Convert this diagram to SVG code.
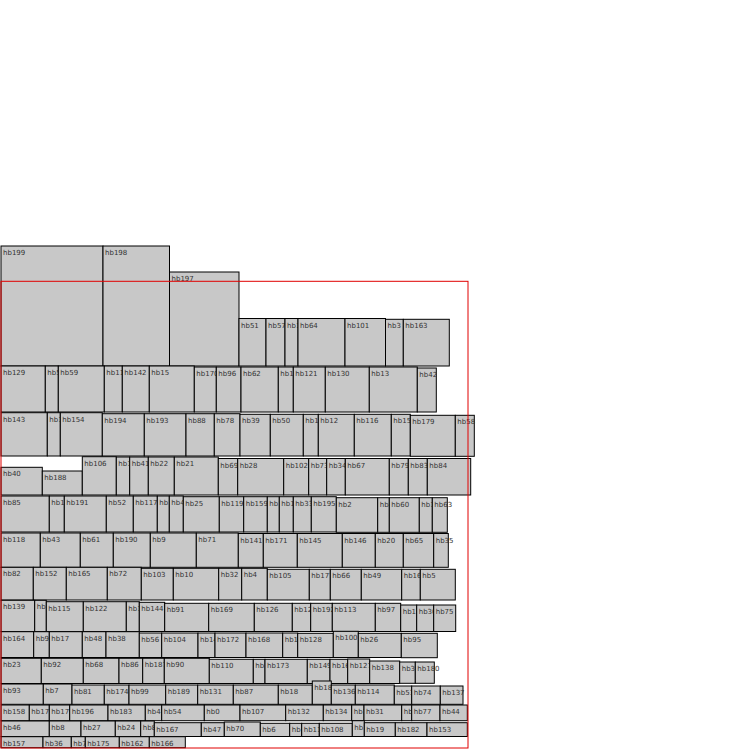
<svg xmlns="http://www.w3.org/2000/svg" width="750" height="750" viewBox="0 0 750 750">
<style>
.n rect{fill:#c8c8c8;stroke:#000;stroke-width:1}
.n text{font-family:"DejaVu Sans",sans-serif;font-size:7px;fill:#333}
</style>
<rect width="750" height="750" fill="#fff"/>
<g id="nodes">
<g class="n" id="hb199" transform="translate(1,246)"><rect width="102" height="120"/><text x="2" y="9">hb199</text></g>
<g class="n" id="hb198" transform="translate(103,246)"><rect width="66.5" height="120"/><text x="2" y="9">hb198</text></g>
<g class="n" id="hb197" transform="translate(169.5,272)"><rect width="69.5" height="94"/><text x="2" y="9">hb197</text></g>
<g class="n" id="hb51" transform="translate(239,318.5)"><rect width="27" height="47.5"/><text x="2" y="9">hb51</text></g>
<g class="n" id="hb57" transform="translate(266,318.5)"><rect width="19" height="47.5"/><text x="2" y="9">hb57</text></g>
<g class="n" id="hb186" transform="translate(285,318.5)"><rect width="13" height="47.5"/><text x="2" y="9">hb186</text></g>
<g class="n" id="hb64" transform="translate(298,318.5)"><rect width="47" height="47.5"/><text x="2" y="9">hb64</text></g>
<g class="n" id="hb101" transform="translate(345,318.5)"><rect width="40.5" height="47.5"/><text x="2" y="9">hb101</text></g>
<g class="n" id="hb3" transform="translate(385.5,319.3)"><rect width="17.8" height="46.7"/><text x="2" y="9">hb3</text></g>
<g class="n" id="hb163" transform="translate(403.3,319.3)"><rect width="46" height="46.7"/><text x="2" y="9">hb163</text></g>

<g class="n" id="hb129" transform="translate(1,366)"><rect width="44.3" height="46"/><text x="2" y="9">hb129</text></g>
<g class="n" id="hb5a" transform="translate(45.3,366)"><rect width="13" height="46"/><text x="2" y="9">hb5</text></g>
<g class="n" id="hb59" transform="translate(58.3,366)"><rect width="46" height="46"/><text x="2" y="9">hb59</text></g>
<g class="n" id="hb11" transform="translate(104.3,366)"><rect width="18" height="46"/><text x="2" y="9">hb11</text></g>
<g class="n" id="hb142" transform="translate(122.3,366)"><rect width="27" height="46"/><text x="2" y="9">hb142</text></g>
<g class="n" id="hb15" transform="translate(149.3,366)"><rect width="45" height="46"/><text x="2" y="9">hb15</text></g>
<g class="n" id="hb170" transform="translate(194.3,367)"><rect width="22" height="45"/><text x="2" y="9">hb170</text></g>
<g class="n" id="hb96" transform="translate(216.3,367)"><rect width="24.7" height="45"/><text x="2" y="9">hb96</text></g>
<g class="n" id="hb62" transform="translate(241,367)"><rect width="37.3" height="45"/><text x="2" y="9">hb62</text></g>
<g class="n" id="hb1a" transform="translate(278.3,367)"><rect width="15" height="45"/><text x="2" y="9">hb1</text></g>
<g class="n" id="hb121" transform="translate(293.3,367)"><rect width="32" height="45"/><text x="2" y="9">hb121</text></g>
<g class="n" id="hb130" transform="translate(325.3,367)"><rect width="44" height="45"/><text x="2" y="9">hb130</text></g>
<g class="n" id="hb13" transform="translate(369.3,367)"><rect width="48" height="45"/><text x="2" y="9">hb13</text></g>
<g class="n" id="hb42" transform="translate(417.3,368)"><rect width="19" height="44"/><text x="2" y="9">hb42</text></g>

<g class="n" id="hb143" transform="translate(1,412.7)"><rect width="46.3" height="43.3"/><text x="2" y="9">hb143</text></g>
<g class="n" id="hb185" transform="translate(47.3,412.7)"><rect width="13" height="43.3"/><text x="2" y="9">hb185</text></g>
<g class="n" id="hb154" transform="translate(60.3,412.7)"><rect width="42" height="43.3"/><text x="2" y="9">hb154</text></g>
<g class="n" id="hb194" transform="translate(102.3,413.7)"><rect width="42" height="42.3"/><text x="2" y="9">hb194</text></g>
<g class="n" id="hb193" transform="translate(144.3,413.7)"><rect width="41.7" height="42.3"/><text x="2" y="9">hb193</text></g>
<g class="n" id="hb88" transform="translate(186,413.7)"><rect width="28.3" height="42.3"/><text x="2" y="9">hb88</text></g>
<g class="n" id="hb78" transform="translate(214.3,413.7)"><rect width="25.7" height="42.3"/><text x="2" y="9">hb78</text></g>
<g class="n" id="hb39" transform="translate(240,414.3)"><rect width="30.3" height="41.7"/><text x="2" y="9">hb39</text></g>
<g class="n" id="hb50" transform="translate(270.3,414.3)"><rect width="33" height="41.7"/><text x="2" y="9">hb50</text></g>
<g class="n" id="hb181" transform="translate(303.3,414.3)"><rect width="15" height="41.7"/><text x="2" y="9">hb181</text></g>
<g class="n" id="hb12" transform="translate(318.3,414.3)"><rect width="36" height="41.7"/><text x="2" y="9">hb12</text></g>
<g class="n" id="hb116" transform="translate(354.3,414.3)"><rect width="37" height="41.7"/><text x="2" y="9">hb116</text></g>
<g class="n" id="hb15b" transform="translate(391.3,414.3)"><rect width="19" height="41.7"/><text x="2" y="9">hb15</text></g>
<g class="n" id="hb179" transform="translate(410.3,415.3)"><rect width="45" height="41"/><text x="2" y="9">hb179</text></g>
<g class="n" id="hb58" transform="translate(455.3,415.3)"><rect width="19" height="41"/><text x="2" y="9">hb58</text></g>

<g class="n" id="hb40" transform="translate(1,467.3)"><rect width="41.3" height="27.7"/><text x="2" y="9">hb40</text></g>
<g class="n" id="hb188" transform="translate(42.3,471)"><rect width="40" height="24"/><text x="2" y="9">hb188</text></g>
<g class="n" id="hb106" transform="translate(82.3,456.7)"><rect width="34" height="38.3"/><text x="2" y="9">hb106</text></g>
<g class="n" id="hb134a" transform="translate(116.3,457)"><rect width="13.4" height="38"/><text x="2" y="9">hb13</text></g>
<g class="n" id="hb41" transform="translate(129.7,457)"><rect width="18.6" height="38"/><text x="2" y="9">hb41</text></g>
<g class="n" id="hb22" transform="translate(148.3,457)"><rect width="26" height="38"/><text x="2" y="9">hb22</text></g>
<g class="n" id="hb21" transform="translate(174.3,457)"><rect width="44" height="38"/><text x="2" y="9">hb21</text></g>
<g class="n" id="hb69" transform="translate(218.3,458.5)"><rect width="19.4" height="36.5"/><text x="2" y="9">hb69</text></g>
<g class="n" id="hb28" transform="translate(237.7,458.5)"><rect width="46" height="36.5"/><text x="2" y="9">hb28</text></g>
<g class="n" id="hb102" transform="translate(283.7,458.5)"><rect width="25" height="36.5"/><text x="2" y="9">hb102</text></g>
<g class="n" id="hb73" transform="translate(308.7,458.5)"><rect width="18" height="36.5"/><text x="2" y="9">hb73</text></g>
<g class="n" id="hb34" transform="translate(326.7,458.5)"><rect width="18.6" height="36.5"/><text x="2" y="9">hb34</text></g>
<g class="n" id="hb67" transform="translate(345.3,458.5)"><rect width="44" height="36.5"/><text x="2" y="9">hb67</text></g>
<g class="n" id="hb79" transform="translate(389.3,458.5)"><rect width="19" height="36.5"/><text x="2" y="9">hb79</text></g>
<g class="n" id="hb83" transform="translate(408.3,458.5)"><rect width="19" height="36.5"/><text x="2" y="9">hb83</text></g>
<g class="n" id="hb84" transform="translate(427.3,458.5)"><rect width="43.4" height="36.5"/><text x="2" y="9">hb84</text></g>

<g class="n" id="hb85" transform="translate(1,496)"><rect width="48.3" height="36"/><text x="2" y="9">hb85</text></g>
<g class="n" id="hb1b" transform="translate(49.3,496)"><rect width="15" height="36"/><text x="2" y="9">hb1</text></g>
<g class="n" id="hb191" transform="translate(64.3,496)"><rect width="42" height="36"/><text x="2" y="9">hb191</text></g>
<g class="n" id="hb52" transform="translate(106.3,496)"><rect width="27" height="36"/><text x="2" y="9">hb52</text></g>
<g class="n" id="hb117" transform="translate(133.3,496)"><rect width="24" height="36"/><text x="2" y="9">hb117</text></g>
<g class="n" id="hb1c" transform="translate(157.3,496)"><rect width="12" height="36"/><text x="2" y="9">hb1</text></g>
<g class="n" id="hb45" transform="translate(169.3,496)"><rect width="14" height="36"/><text x="2" y="9">hb45</text></g>
<g class="n" id="hb25" transform="translate(183.3,496.7)"><rect width="36" height="35.3"/><text x="2" y="9">hb25</text></g>
<g class="n" id="hb119" transform="translate(219.3,496.7)"><rect width="24.4" height="35.3"/><text x="2" y="9">hb119</text></g>
<g class="n" id="hb159" transform="translate(243.7,496.7)"><rect width="23.6" height="35.3"/><text x="2" y="9">hb159</text></g>
<g class="n" id="hb160" transform="translate(267.3,496.7)"><rect width="12" height="35.3"/><text x="2" y="9">hb160</text></g>
<g class="n" id="hb1d" transform="translate(279.3,496.7)"><rect width="14" height="35.3"/><text x="2" y="9">hb1</text></g>
<g class="n" id="hb33" transform="translate(293.3,496.7)"><rect width="18" height="35.3"/><text x="2" y="9">hb33</text></g>
<g class="n" id="hb195" transform="translate(311.3,496.7)"><rect width="25" height="35.3"/><text x="2" y="9">hb195</text></g>
<g class="n" id="hb2" transform="translate(336.3,497.7)"><rect width="41.4" height="34.6"/><text x="2" y="9">hb2</text></g>
<g class="n" id="hb8a" transform="translate(377.7,497.7)"><rect width="11.6" height="34.6"/><text x="2" y="9">hb8</text></g>
<g class="n" id="hb60" transform="translate(389.3,497.7)"><rect width="30" height="34.6"/><text x="2" y="9">hb60</text></g>
<g class="n" id="hb13b" transform="translate(419.3,497.7)"><rect width="13" height="34.6"/><text x="2" y="9">hb13</text></g>
<g class="n" id="hb63" transform="translate(432.3,497.7)"><rect width="15" height="34.6"/><text x="2" y="9">hb63</text></g>

<g class="n" id="hb118" transform="translate(1,533)"><rect width="39.3" height="34.3"/><text x="2" y="9">hb118</text></g>
<g class="n" id="hb43" transform="translate(40.3,533)"><rect width="40" height="34.3"/><text x="2" y="9">hb43</text></g>
<g class="n" id="hb61" transform="translate(80.3,533)"><rect width="33" height="34.3"/><text x="2" y="9">hb61</text></g>
<g class="n" id="hb190" transform="translate(113.3,533)"><rect width="37" height="34.3"/><text x="2" y="9">hb190</text></g>
<g class="n" id="hb9" transform="translate(150.3,533)"><rect width="46" height="34.3"/><text x="2" y="9">hb9</text></g>
<g class="n" id="hb71" transform="translate(196.3,533)"><rect width="42" height="34.3"/><text x="2" y="9">hb71</text></g>
<g class="n" id="hb141" transform="translate(238.3,533.5)"><rect width="25" height="33.8"/><text x="2" y="9">hb141</text></g>
<g class="n" id="hb171" transform="translate(263.3,533.5)"><rect width="34" height="33.8"/><text x="2" y="9">hb171</text></g>
<g class="n" id="hb145" transform="translate(297.3,533.5)"><rect width="45" height="33.8"/><text x="2" y="9">hb145</text></g>
<g class="n" id="hb146" transform="translate(342.3,533.5)"><rect width="33" height="33.8"/><text x="2" y="9">hb146</text></g>
<g class="n" id="hb20" transform="translate(375.3,533.5)"><rect width="28" height="33.8"/><text x="2" y="9">hb20</text></g>
<g class="n" id="hb65" transform="translate(403.3,533.5)"><rect width="30.4" height="33.8"/><text x="2" y="9">hb65</text></g>
<g class="n" id="hb35" transform="translate(433.7,533.5)"><rect width="14.6" height="33.8"/><text x="2" y="9">hb35</text></g>

<g class="n" id="hb82" transform="translate(1,567.3)"><rect width="32.3" height="32.7"/><text x="2" y="9">hb82</text></g>
<g class="n" id="hb152" transform="translate(33.3,567.3)"><rect width="33" height="32.7"/><text x="2" y="9">hb152</text></g>
<g class="n" id="hb165" transform="translate(66.3,567.3)"><rect width="41" height="32.7"/><text x="2" y="9">hb165</text></g>
<g class="n" id="hb72" transform="translate(107.3,567.3)"><rect width="34" height="32.7"/><text x="2" y="9">hb72</text></g>
<g class="n" id="hb103" transform="translate(141.3,568.3)"><rect width="32" height="31.7"/><text x="2" y="9">hb103</text></g>
<g class="n" id="hb10" transform="translate(173.3,568.3)"><rect width="45.4" height="31.7"/><text x="2" y="9">hb10</text></g>
<g class="n" id="hb32" transform="translate(218.7,568.3)"><rect width="23" height="31.7"/><text x="2" y="9">hb32</text></g>
<g class="n" id="hb4" transform="translate(241.7,568.3)"><rect width="25.6" height="31.7"/><text x="2" y="9">hb4</text></g>
<g class="n" id="hb105" transform="translate(267.3,569.3)"><rect width="42" height="30.7"/><text x="2" y="9">hb105</text></g>
<g class="n" id="hb177" transform="translate(309.3,569.3)"><rect width="21" height="30.7"/><text x="2" y="9">hb177</text></g>
<g class="n" id="hb66" transform="translate(330.3,569.3)"><rect width="31" height="30.7"/><text x="2" y="9">hb66</text></g>
<g class="n" id="hb49" transform="translate(361.3,569.3)"><rect width="40.4" height="30.7"/><text x="2" y="9">hb49</text></g>
<g class="n" id="hb16a" transform="translate(401.7,569.3)"><rect width="18.6" height="30.7"/><text x="2" y="9">hb16</text></g>
<g class="n" id="hb5" transform="translate(420.3,569.3)"><rect width="35" height="30.7"/><text x="2" y="9">hb5</text></g>

<g class="n" id="hb139" transform="translate(1,600.3)"><rect width="33.7" height="31.2"/><text x="2" y="9">hb139</text></g>
<g class="n" id="hb14a" transform="translate(34.7,600.3)"><rect width="11.6" height="31.2"/><text x="2" y="9">hb14</text></g>
<g class="n" id="hb115" transform="translate(46.3,601.7)"><rect width="37" height="29.8"/><text x="2" y="9">hb115</text></g>
<g class="n" id="hb122" transform="translate(83.3,601.7)"><rect width="43" height="29.8"/><text x="2" y="9">hb122</text></g>
<g class="n" id="hb15c" transform="translate(126.3,601.7)"><rect width="13" height="29.8"/><text x="2" y="9">hb15</text></g>
<g class="n" id="hb144" transform="translate(139.3,602.3)"><rect width="25.4" height="29.2"/><text x="2" y="9">hb144</text></g>
<g class="n" id="hb91" transform="translate(164.7,603.3)"><rect width="44" height="28.2"/><text x="2" y="9">hb91</text></g>
<g class="n" id="hb169" transform="translate(208.7,603.3)"><rect width="45.6" height="28.2"/><text x="2" y="9">hb169</text></g>
<g class="n" id="hb126" transform="translate(254.3,603.3)"><rect width="38" height="28.2"/><text x="2" y="9">hb126</text></g>
<g class="n" id="hb12b" transform="translate(292.3,603.3)"><rect width="18.4" height="28.2"/><text x="2" y="9">hb12</text></g>
<g class="n" id="hb192" transform="translate(310.7,603.3)"><rect width="21.6" height="28.2"/><text x="2" y="9">hb192</text></g>
<g class="n" id="hb113" transform="translate(332.3,603.3)"><rect width="43" height="28.2"/><text x="2" y="9">hb113</text></g>
<g class="n" id="hb97" transform="translate(375.3,603.3)"><rect width="25.4" height="28.2"/><text x="2" y="9">hb97</text></g>
<g class="n" id="hb19a" transform="translate(400.7,605)"><rect width="16" height="26.5"/><text x="2" y="9">hb19</text></g>
<g class="n" id="hb30" transform="translate(416.7,605)"><rect width="17" height="26.5"/><text x="2" y="9">hb30</text></g>
<g class="n" id="hb75" transform="translate(433.7,605)"><rect width="22" height="26.5"/><text x="2" y="9">hb75</text></g>

<g class="n" id="hb164" transform="translate(1,631.7)"><rect width="32.7" height="25.8"/><text x="2" y="9">hb164</text></g>
<g class="n" id="hb9b" transform="translate(33.7,631.7)"><rect width="15.6" height="25.8"/><text x="2" y="9">hb9</text></g>
<g class="n" id="hb17" transform="translate(49.3,631.7)"><rect width="33" height="25.8"/><text x="2" y="9">hb17</text></g>
<g class="n" id="hb48" transform="translate(82.3,631.7)"><rect width="23.7" height="25.8"/><text x="2" y="9">hb48</text></g>
<g class="n" id="hb38" transform="translate(106,631.7)"><rect width="33.3" height="25.8"/><text x="2" y="9">hb38</text></g>
<g class="n" id="hb56" transform="translate(139.3,633)"><rect width="22.4" height="24.5"/><text x="2" y="9">hb56</text></g>
<g class="n" id="hb104" transform="translate(161.7,633)"><rect width="36.3" height="24.5"/><text x="2" y="9">hb104</text></g>
<g class="n" id="hb14b" transform="translate(198,633)"><rect width="17" height="24.5"/><text x="2" y="9">hb14</text></g>
<g class="n" id="hb172" transform="translate(215,633)"><rect width="31" height="24.5"/><text x="2" y="9">hb172</text></g>
<g class="n" id="hb168" transform="translate(246,633)"><rect width="36.7" height="24.5"/><text x="2" y="9">hb168</text></g>
<g class="n" id="hb1e" transform="translate(282.7,633)"><rect width="15" height="24.5"/><text x="2" y="9">hb1</text></g>
<g class="n" id="hb128" transform="translate(297.7,633.3)"><rect width="35.6" height="24.2"/><text x="2" y="9">hb128</text></g>
<g class="n" id="hb100" transform="translate(333.3,631.3)"><rect width="25" height="26.2"/><text x="2" y="9">hb100</text></g>
<g class="n" id="hb26" transform="translate(358.3,633.3)"><rect width="43" height="24.2"/><text x="2" y="9">hb26</text></g>
<g class="n" id="hb95" transform="translate(401.3,633.3)"><rect width="36" height="24.4"/><text x="2" y="9">hb95</text></g>

<g class="n" id="hb23" transform="translate(1,658.3)"><rect width="40.3" height="25.2"/><text x="2" y="9">hb23</text></g>
<g class="n" id="hb92" transform="translate(41.3,658.3)"><rect width="42" height="25.2"/><text x="2" y="9">hb92</text></g>
<g class="n" id="hb68" transform="translate(83.3,658.3)"><rect width="35.7" height="25.2"/><text x="2" y="9">hb68</text></g>
<g class="n" id="hb86" transform="translate(119,658.3)"><rect width="23.7" height="25.2"/><text x="2" y="9">hb86</text></g>
<g class="n" id="hb187" transform="translate(142.7,658.3)"><rect width="21.6" height="25.2"/><text x="2" y="9">hb187</text></g>
<g class="n" id="hb90" transform="translate(164.3,658.3)"><rect width="45" height="25.2"/><text x="2" y="9">hb90</text></g>
<g class="n" id="hb110" transform="translate(209.3,659.3)"><rect width="44" height="24.2"/><text x="2" y="9">hb110</text></g>
<g class="n" id="hb1f" transform="translate(253.3,659.3)"><rect width="11.7" height="24.2"/><text x="2" y="9">hb1</text></g>
<g class="n" id="hb173" transform="translate(265,659.3)"><rect width="42.3" height="24.2"/><text x="2" y="9">hb173</text></g>
<g class="n" id="hb149" transform="translate(307.3,659.3)"><rect width="22.7" height="24.2"/><text x="2" y="9">hb149</text></g>
<g class="n" id="hb16b" transform="translate(330,659.3)"><rect width="17.7" height="24.2"/><text x="2" y="9">hb16</text></g>
<g class="n" id="hb127" transform="translate(347.7,659)"><rect width="22" height="24.5"/><text x="2" y="9">hb127</text></g>
<g class="n" id="hb138" transform="translate(369.7,661)"><rect width="30" height="22.5"/><text x="2" y="9">hb138</text></g>
<g class="n" id="hb3b" transform="translate(399.7,662)"><rect width="15.6" height="21.3"/><text x="2" y="9">hb3</text></g>
<g class="n" id="hb180" transform="translate(415.3,662)"><rect width="19" height="21.3"/><text x="2" y="9">hb180</text></g>

<g class="n" id="hb93" transform="translate(1,684)"><rect width="42.3" height="20.3"/><text x="2" y="9">hb93</text></g>
<g class="n" id="hb7" transform="translate(43.3,684)"><rect width="28.7" height="20.3"/><text x="2" y="9">hb7</text></g>
<g class="n" id="hb81" transform="translate(72,685)"><rect width="32.3" height="19.3"/><text x="2" y="9">hb81</text></g>
<g class="n" id="hb174" transform="translate(104.3,685)"><rect width="24.7" height="19.3"/><text x="2" y="9">hb174</text></g>
<g class="n" id="hb99" transform="translate(129,685)"><rect width="36.7" height="19.3"/><text x="2" y="9">hb99</text></g>
<g class="n" id="hb189" transform="translate(165.7,685)"><rect width="32" height="19.3"/><text x="2" y="9">hb189</text></g>
<g class="n" id="hb131" transform="translate(197.7,685)"><rect width="35.6" height="19.3"/><text x="2" y="9">hb131</text></g>
<g class="n" id="hb87" transform="translate(233.3,685)"><rect width="45" height="19.3"/><text x="2" y="9">hb87</text></g>
<g class="n" id="hb18" transform="translate(278.3,685)"><rect width="34" height="19.3"/><text x="2" y="9">hb18</text></g>
<g class="n" id="hb184" transform="translate(312.3,681)"><rect width="19" height="23.3"/><text x="2" y="9">hb184</text></g>
<g class="n" id="hb136" transform="translate(331.3,685)"><rect width="24" height="19.3"/><text x="2" y="9">hb136</text></g>
<g class="n" id="hb114" transform="translate(355.3,685)"><rect width="39" height="19.3"/><text x="2" y="9">hb114</text></g>
<g class="n" id="hb53" transform="translate(394.3,686)"><rect width="17.4" height="18.3"/><text x="2" y="9">hb53</text></g>
<g class="n" id="hb74" transform="translate(411.7,686)"><rect width="28.6" height="18.3"/><text x="2" y="9">hb74</text></g>
<g class="n" id="hb137" transform="translate(440.3,686)"><rect width="22.7" height="18.3"/><text x="2" y="9">hb137</text></g>

<g class="n" id="hb158" transform="translate(1,705)"><rect width="28.3" height="15.7"/><text x="2" y="9">hb158</text></g>
<g class="n" id="hb17b" transform="translate(29.3,705)"><rect width="20" height="15.7"/><text x="2" y="9">hb17</text></g>
<g class="n" id="hb17c" transform="translate(49.3,705)"><rect width="20.4" height="15.7"/><text x="2" y="9">hb17</text></g>
<g class="n" id="hb196" transform="translate(69.7,705)"><rect width="38.3" height="15.7"/><text x="2" y="9">hb196</text></g>
<g class="n" id="hb183" transform="translate(108,705)"><rect width="37.3" height="15.7"/><text x="2" y="9">hb183</text></g>
<g class="n" id="hb4b" transform="translate(145.3,705)"><rect width="16.4" height="15.7"/><text x="2" y="9">hb4</text></g>
<g class="n" id="hb54" transform="translate(161.7,705)"><rect width="42.6" height="15.7"/><text x="2" y="9">hb54</text></g>
<g class="n" id="hb0" transform="translate(204.3,705)"><rect width="35.7" height="15.7"/><text x="2" y="9">hb0</text></g>
<g class="n" id="hb107" transform="translate(240,705)"><rect width="45.7" height="15.7"/><text x="2" y="9">hb107</text></g>
<g class="n" id="hb132" transform="translate(285.7,705)"><rect width="37.6" height="15.7"/><text x="2" y="9">hb132</text></g>
<g class="n" id="hb134" transform="translate(323.3,705)"><rect width="28.4" height="15.7"/><text x="2" y="9">hb134</text></g>
<g class="n" id="hb140" transform="translate(351.7,705)"><rect width="12.3" height="15.7"/><text x="2" y="9">hb140</text></g>
<g class="n" id="hb31" transform="translate(364,705)"><rect width="37.7" height="15.7"/><text x="2" y="9">hb31</text></g>
<g class="n" id="hb94" transform="translate(401.7,705)"><rect width="10" height="15.7"/><text x="2" y="9">hb94</text></g>
<g class="n" id="hb77" transform="translate(411.7,705)"><rect width="28.3" height="15.7"/><text x="2" y="9">hb77</text></g>
<g class="n" id="hb44" transform="translate(440,705)"><rect width="27.3" height="15.7"/><text x="2" y="9">hb44</text></g>

<g class="n" id="hb46" transform="translate(1,721)"><rect width="48.3" height="15.5"/><text x="2" y="9">hb46</text></g>
<g class="n" id="hb8" transform="translate(49.3,721)"><rect width="31.7" height="15.5"/><text x="2" y="9">hb8</text></g>
<g class="n" id="hb27" transform="translate(81,721)"><rect width="34.3" height="15.5"/><text x="2" y="9">hb27</text></g>
<g class="n" id="hb24" transform="translate(115.3,721)"><rect width="25.4" height="15.5"/><text x="2" y="9">hb24</text></g>
<g class="n" id="hb8b" transform="translate(140.7,721)"><rect width="13.6" height="15.5"/><text x="2" y="9">hb8</text></g>
<g class="n" id="hb167" transform="translate(154.3,722.7)"><rect width="47" height="13.8"/><text x="2" y="9">hb167</text></g>
<g class="n" id="hb47" transform="translate(201.3,722.7)"><rect width="23" height="13.8"/><text x="2" y="9">hb47</text></g>
<g class="n" id="hb70" transform="translate(224.3,722)"><rect width="36" height="14.5"/><text x="2" y="9">hb70</text></g>
<g class="n" id="hb6" transform="translate(260.3,723.3)"><rect width="29.4" height="13.2"/><text x="2" y="9">hb6</text></g>
<g class="n" id="hb155" transform="translate(289.7,723.3)"><rect width="12" height="13.2"/><text x="2" y="9">hb155</text></g>
<g class="n" id="hb11b" transform="translate(301.7,723.3)"><rect width="17.6" height="13.2"/><text x="2" y="9">hb111</text></g>
<g class="n" id="hb108" transform="translate(319.3,723.3)"><rect width="33" height="13.2"/><text x="2" y="9">hb108</text></g>
<g class="n" id="hb123" transform="translate(352.3,720.7)"><rect width="12" height="15.8"/><text x="2" y="9">hb123</text></g>
<g class="n" id="hb19b" transform="translate(364.3,722.7)"><rect width="31" height="13.8"/><text x="2" y="9">hb19</text></g>
<g class="n" id="hb182" transform="translate(395.3,722.7)"><rect width="31.7" height="13.8"/><text x="2" y="9">hb182</text></g>
<g class="n" id="hb153" transform="translate(427,722.7)"><rect width="40.3" height="13.8"/><text x="2" y="9">hb153</text></g>

<g class="n" id="hb157" transform="translate(1,736.7)"><rect width="42" height="11"/><text x="2" y="9">hb157</text></g>
<g class="n" id="hb36" transform="translate(43,736.7)"><rect width="28.3" height="11"/><text x="2" y="9">hb36</text></g>
<g class="n" id="hb7b" transform="translate(71.3,736.7)"><rect width="14" height="11"/><text x="2" y="9">hb7</text></g>
<g class="n" id="hb175" transform="translate(85.3,736.7)"><rect width="34" height="11"/><text x="2" y="9">hb175</text></g>
<g class="n" id="hb162" transform="translate(119.3,736.7)"><rect width="30" height="11"/><text x="2" y="9">hb162</text></g>
<g class="n" id="hb166" transform="translate(149.3,736.7)"><rect width="36" height="11"/><text x="2" y="9">hb166</text></g>
</g>
<g id="connectors"></g>
<rect id="bounds" x="1" y="281.3" width="467" height="466.7" fill="none" stroke="#e00000" stroke-width="1"/>
</svg>
